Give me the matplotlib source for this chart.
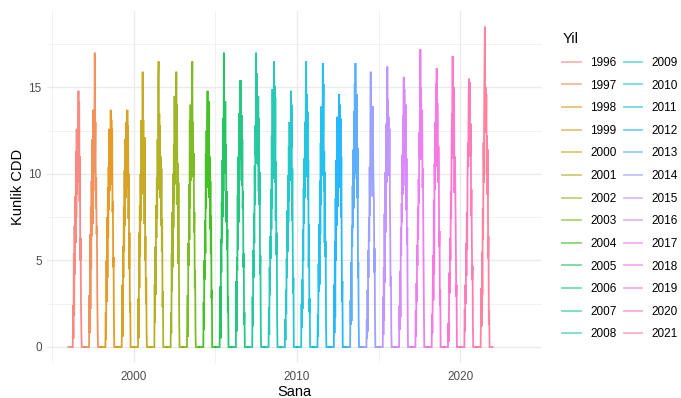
import numpy as np
import pandas as pd
import matplotlib
matplotlib.use("Agg")
import matplotlib.pyplot as plt
import matplotlib.dates as mdates
from matplotlib.lines import Line2D

# ---------------- data (8-day samples of daily CDD, Apr 5 .. Oct 25) ----------------
years = list(range(1996, 2022))
season_start = "04-05"
season_step = "8D"

cdd_1996 = [0, 2.4, 0.5, 5.4, 1.8, 7.0, 4.2, 8.7, 6.0, 11.3, 7.5, 12.6, 8.8, 11.0, 9.5, 12.2, 14.8, 10.9, 14.2, 8.4, 11.0, 5.0, 6.3, 2.6, 1.0, 0]
cdd_1997 = [0, 3.0, 0.8, 6.5, 2.2, 8.1, 4.5, 9.6, 6.4, 12.0, 7.1, 13.7, 9.0, 12.4, 10.1, 13.1, 17.0, 11.2, 13.0, 8.0, 9.8, 6.5, 7.0, 3.0, 1.2, 0]
cdd_1998 = [0, 2.0, 0.4, 5.0, 2.6, 7.5, 4.0, 9.2, 6.3, 10.4, 7.9, 12.6, 9.0, 12.0, 10.1, 13.7, 11.2, 13.1, 9.4, 12.6, 7.8, 8.4, 4.6, 5.2, 1.4, 0]
cdd_1999 = [0, 1.5, 3.6, 0.6, 5.8, 4.0, 8.1, 5.5, 10.2, 7.0, 12.0, 8.6, 13.0, 9.8, 11.6, 10.4, 13.7, 9.2, 12.8, 7.4, 10.0, 4.5, 6.6, 2.0, 2.6, 0]
cdd_2000 = [0, 2.8, 0.5, 6.6, 3.4, 8.2, 5.2, 10.0, 7.3, 13.1, 8.8, 12.0, 9.6, 15.9, 10.4, 13.1, 9.0, 11.4, 7.1, 12.1, 5.0, 6.4, 2.5, 4.0, 0.8, 0]
cdd_2001 = [0, 3.6, 1.4, 5.8, 3.0, 8.2, 6.3, 9.8, 7.4, 12.0, 9.1, 15.4, 16.5, 10.7, 13.5, 9.8, 12.8, 8.6, 11.0, 7.0, 10.3, 5.5, 7.4, 2.3, 3.2, 0]
cdd_2002 = [0, 2.0, 0.8, 5.4, 3.2, 7.8, 4.6, 10.0, 6.9, 11.7, 8.3, 14.5, 9.4, 12.4, 10.6, 13.2, 15.9, 11.5, 14.0, 8.2, 10.6, 4.8, 9.5, 5.8, 1.5, 0]
cdd_2003 = [0, 1.8, 3.0, 0.6, 6.0, 4.7, 9.4, 6.2, 13.1, 8.0, 14.0, 9.6, 12.0, 10.2, 13.8, 16.5, 11.0, 13.0, 9.8, 11.2, 6.6, 7.8, 3.4, 4.4, 0.8, 0]
cdd_2004 = [0, 2.6, 1.0, 5.0, 3.9, 7.3, 5.4, 11.2, 8.0, 12.5, 9.2, 13.1, 14.8, 10.9, 13.1, 9.5, 14.2, 8.6, 11.0, 6.8, 9.6, 5.4, 7.6, 2.8, 3.3, 0]
cdd_2005 = [0, 1.8, 3.5, 0.5, 6.2, 4.3, 8.4, 6.0, 10.8, 7.5, 13.2, 9.0, 17.0, 11.6, 13.4, 10.0, 14.2, 10.2, 11.7, 7.2, 9.0, 5.6, 6.8, 2.0, 2.9, 0]
cdd_2006 = [0, 3.8, 0.9, 5.2, 4.4, 8.8, 5.6, 11.0, 7.2, 13.5, 9.6, 12.2, 15.4, 10.8, 15.4, 11.4, 13.4, 9.3, 12.0, 8.0, 9.0, 4.6, 5.4, 1.3, 2.0, 0]
cdd_2007 = [0, 2.9, 1.2, 5.6, 4.0, 7.7, 6.0, 10.5, 8.2, 12.8, 11.0, 17.0, 10.6, 15.8, 12.0, 13.6, 10.5, 14.5, 9.0, 13.2, 8.2, 10.1, 4.2, 5.3, 1.0, 0]
cdd_2008 = [0, 2.3, 0.7, 4.6, 3.0, 6.4, 5.1, 9.1, 6.8, 12.2, 8.0, 14.9, 9.7, 12.7, 11.0, 16.5, 10.3, 15.1, 9.5, 14.4, 7.3, 10.7, 5.3, 6.6, 1.8, 0]
cdd_2009 = [0, 1.6, 0.4, 3.3, 1.9, 5.1, 4.0, 7.9, 5.5, 9.9, 7.2, 11.6, 8.4, 13.0, 10.2, 12.4, 9.6, 14.8, 11.5, 14.0, 7.3, 10.3, 6.3, 3.1, 4.0, 0]
cdd_2010 = [0, 2.5, 1.1, 3.9, 2.2, 6.8, 5.0, 9.2, 7.1, 10.9, 8.6, 13.0, 10.2, 14.6, 16.5, 11.6, 14.6, 9.8, 13.6, 8.5, 10.8, 4.6, 7.1, 2.0, 2.8, 0]
cdd_2011 = [0, 1.9, 0.6, 4.8, 3.2, 7.1, 3.6, 9.6, 6.5, 11.8, 8.2, 13.9, 9.9, 12.1, 10.8, 16.4, 12.5, 15.2, 9.0, 11.3, 6.0, 10.1, 5.2, 6.1, 1.2, 0]
cdd_2012 = [0, 3.6, 0.8, 6.1, 1.7, 8.6, 5.0, 10.8, 7.0, 9.4, 13.3, 8.1, 11.5, 10.6, 12.6, 14.6, 10.0, 14.0, 9.2, 13.2, 7.5, 11.0, 6.0, 2.6, 3.8, 0]
cdd_2013 = [0, 2.7, 1.3, 4.9, 1.5, 7.0, 5.8, 9.3, 6.9, 11.4, 8.0, 13.6, 9.7, 15.2, 12.0, 16.4, 11.1, 13.8, 10.0, 14.6, 8.6, 11.5, 4.0, 4.9, 1.4, 0]
cdd_2014 = [0, 1.6, 0.5, 3.3, 0.9, 5.6, 4.0, 7.5, 6.1, 10.4, 7.6, 12.8, 15.9, 11.0, 13.1, 9.8, 12.2, 8.7, 13.9, 10.6, 9.2, 8.4, 4.3, 5.7, 1.6, 0]
cdd_2015 = [0, 2.9, 0.7, 4.6, 1.5, 7.7, 3.7, 10.1, 6.6, 8.9, 12.9, 9.5, 14.1, 16.2, 12.0, 14.3, 10.4, 13.3, 9.9, 12.6, 8.7, 6.6, 3.5, 4.1, 0.9, 0]
cdd_2016 = [0, 2.4, 1.0, 4.4, 1.7, 6.9, 5.3, 8.3, 7.2, 11.1, 8.8, 13.4, 12.2, 15.6, 10.5, 14.9, 11.7, 12.8, 9.3, 14.0, 7.9, 10.9, 5.9, 6.9, 2.2, 0]
cdd_2017 = [0, 2.1, 0.6, 3.7, 2.6, 5.9, 4.7, 8.1, 6.2, 9.7, 8.3, 12.4, 11.0, 14.4, 17.2, 13.9, 15.0, 10.8, 12.5, 13.7, 9.2, 10.3, 7.4, 4.4, 1.9, 0]
cdd_2018 = [0, 1.9, 0.8, 3.1, 5.3, 2.7, 8.5, 4.2, 10.6, 9.1, 13.0, 10.4, 15.2, 12.5, 16.1, 11.3, 14.1, 12.9, 9.5, 11.6, 10.2, 5.8, 6.7, 2.4, 3.3, 0]
cdd_2019 = [0, 1.4, 0.3, 2.7, 4.3, 3.1, 6.3, 5.0, 9.0, 7.4, 11.3, 13.5, 12.0, 16.8, 10.9, 14.0, 12.8, 15.0, 8.9, 11.0, 10.2, 8.1, 6.0, 2.9, 3.6, 0]
cdd_2020 = [0, 2.2, 0.9, 3.6, 2.5, 6.0, 4.1, 7.8, 5.6, 9.7, 11.8, 10.4, 14.3, 15.5, 13.2, 15.3, 12.1, 11.0, 12.9, 7.6, 9.1, 6.2, 3.9, 4.7, 1.1, 0]
cdd_2021 = [0, 1.9, 3.4, 1.2, 5.5, 3.0, 8.0, 6.2, 11.8, 9.5, 14.1, 16.8, 18.5, 13.0, 15.0, 12.4, 14.6, 10.0, 12.2, 8.8, 11.4, 5.1, 6.4, 1.3, 2.1, 0]

season_values = [cdd_1996, cdd_1997, cdd_1998, cdd_1999, cdd_2000, cdd_2001, cdd_2002,
                 cdd_2003, cdd_2004, cdd_2005, cdd_2006, cdd_2007, cdd_2008, cdd_2009,
                 cdd_2010, cdd_2011, cdd_2012, cdd_2013, cdd_2014, cdd_2015, cdd_2016,
                 cdd_2017, cdd_2018, cdd_2019, cdd_2020, cdd_2021]

x_major_years = [2000, 2010, 2020]
x_minor_years = [1995, 2005, 2015, 2025]
y_major = [0, 5, 10, 15]
y_minor = [2.5, 7.5, 12.5, 17.5]


# ---------------- ggplot2 hue palette ----------------
def hcl_hex(h, c, l):
    hr = np.deg2rad(h)
    U, V = c * np.cos(hr), c * np.sin(hr)
    Xn, Yn, Zn = 95.047, 100.0, 108.883
    Y = Yn * (((l + 16) / 116) ** 3 if l > 8 else l / 903.3)
    den = Xn + 15 * Yn + 3 * Zn
    un, vn = 4 * Xn / den, 9 * Yn / den
    u = U / (13 * l) + un
    v = V / (13 * l) + vn
    X = 9.0 * Y * u / (4 * v)
    Z = -X / 3 - 5 * Y + 3 * Y / v
    X, Y, Z = X / 100, Y / 100, Z / 100
    r = 3.240479 * X - 1.537150 * Y - 0.498535 * Z
    g = -0.969256 * X + 1.875992 * Y + 0.041556 * Z
    b = 0.055648 * X - 0.204043 * Y + 1.057311 * Z

    def gam(t):
        t = min(max(t, 0.0), 1.0)
        return 1.055 * t ** (1 / 2.4) - 0.055 if t > 0.0031308 else 12.92 * t
    return "#%02X%02X%02X" % tuple(int(round(gam(t) * 255)) for t in (r, g, b))


n = len(years)
hues = [15 + i * 360.0 / n for i in range(n)]
colors = [hcl_hex(h % 360, 100, 65) for h in hues]

# ---------------- figure ----------------
plt.rcParams["font.family"] = ["Liberation Sans", "DejaVu Sans"]
W, H, DPI = 681, 398, 100
fig = plt.figure(figsize=(W / DPI, H / DPI), dpi=DPI)
ax = fig.add_axes([47.3 / W, 1 - 363 / H, (541.7 - 47.3) / W, (363 - 10.7) / H])

ALPHA = 0.85
all_dates = []
ymax = 0
for yr, vals, col in zip(years, season_values, colors):
    sd = pd.date_range(f"{yr}-{season_start}", periods=len(vals), freq=season_step)
    d = [pd.Timestamp(f"{yr}-01-01")] + list(sd) + [pd.Timestamp(f"{yr}-12-31")]
    v = [0] + list(vals) + [0]
    ax.plot(d, v, color=col, alpha=ALPHA, lw=1.3, solid_joinstyle="miter")
    all_dates += [d[0], d[-1]]
    ymax = max(ymax, max(vals))

# ggplot-like 5% expansion
x0 = mdates.date2num(min(all_dates))
x1 = mdates.date2num(max(all_dates))
ax.set_xlim(x0 - 0.05 * (x1 - x0), x1 + 0.05 * (x1 - x0))
ax.set_ylim(0 - 0.05 * ymax, ymax * 1.05)

ax.set_xticks([mdates.date2num(pd.Timestamp(f"{y}-01-01")) for y in x_major_years])
ax.set_xticklabels([str(y) for y in x_major_years])
ax.set_xticks([mdates.date2num(pd.Timestamp(f"{y}-01-01")) for y in x_minor_years], minor=True)
ax.set_yticks(y_major)
ax.set_yticklabels([str(v) for v in y_major])
ax.set_yticks(y_minor, minor=True)

ax.grid(which="major", color="#EBEBEB", lw=1.0)
ax.grid(which="minor", color="#EBEBEB", lw=0.5)
ax.set_axisbelow(True)
for s in ax.spines.values():
    s.set_visible(False)
ax.tick_params(which="both", length=0)
ax.tick_params(axis="x", labelsize=8.5, labelcolor="#4D4D4D", pad=6)
ax.tick_params(axis="y", labelsize=8.5, labelcolor="#4D4D4D", pad=4)
ax.set_xlabel("Sana", fontsize=10.5, color="black", labelpad=1)
ax.set_ylabel("Kunlik CDD", fontsize=10.5, color="black", labelpad=2.5)

handles = [Line2D([], [], color=c, alpha=0.55, lw=1.3) for c in colors]
leg = ax.legend(handles, [str(y) for y in years], ncol=2, frameon=False,
                loc="upper left", bbox_to_anchor=(554 / W, 1 - 24 / H),
                bbox_transform=fig.transFigure, title="Yil",
                fontsize=8.5, title_fontsize=10.5, handlelength=1.55,
                handletextpad=0.8, labelspacing=0.90, columnspacing=0.62,
                borderpad=0.2, alignment="left")

fig.savefig("out.png", dpi=DPI)
